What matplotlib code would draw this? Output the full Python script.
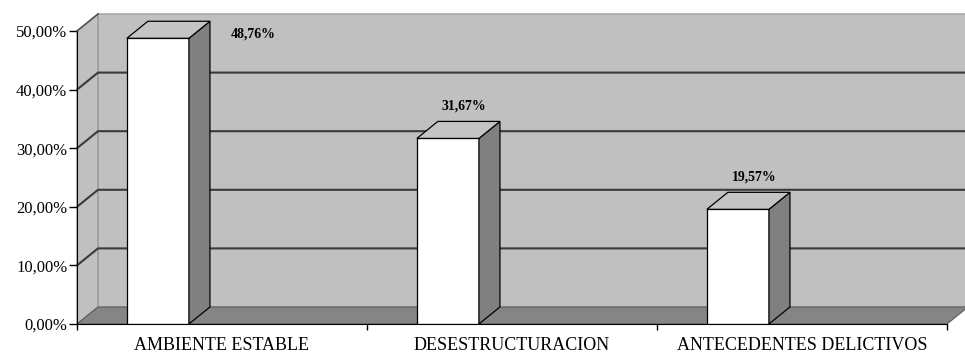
import numpy as np
import matplotlib.pyplot as plt
from matplotlib.patches import Polygon
from matplotlib.ticker import FixedLocator, FuncFormatter

plt.rcParams['font.family'] = ['Liberation Serif', 'DejaVu Serif']

# datos
categorias = ["AMBIENTE ESTABLE", "DESESTRUCTURACION", "ANTECEDENTES DELICTIVOS"]
porcentajes = [48.76, 31.67, 19.57]
marcas_y = [0, 10, 20, 30, 40, 50]

# colores estilo excel
PARED = "#c0c0c0"
SUELO = "#858585"
LATERAL = "#808080"
TAPA = "#c4c4c4"
REJILLA = "#3a3a3a"

fig = plt.figure(figsize=(9.65, 3.55), dpi=100)
ax = fig.add_axes([77/965, 31/355, 870/965, 293/355])
ax.set_xlim(0, len(categorias))
ax.set_ylim(0, 50)

# profundidad en unidades de datos (21 px a la derecha, 17 px hacia arriba)
px_x = 870 / len(categorias)
px_y = 293 / 50
DX = 21 / px_x
DY = 17 / px_y
ymax = marcas_y[-1]
n = len(categorias)

def poli(pts, fc, ec, z, lw=0.8):
    p = Polygon(pts, closed=True, facecolor=fc, edgecolor=ec, lw=lw, zorder=z, clip_on=False)
    ax.add_patch(p)

# pared del fondo, pared izquierda y suelo
poli([(DX, DY), (n + DX, DY), (n + DX, ymax + DY), (DX, ymax + DY)], PARED, "#a8a8a8", 1, 1.2)
poli([(0, 0), (DX, DY), (DX, ymax + DY), (0, ymax)], PARED, "#9a9a9a", 1, 1.0)
poli([(0, 0), (n, 0), (n + DX, DY), (DX, DY)], SUELO, "#5a5a5a", 2)

# lineas de division
for t in marcas_y[1:-1]:
    ax.plot([0, DX, n + DX], [t, t + DY, t + DY], color=REJILLA, lw=1.5,
            zorder=2, clip_on=False, solid_capstyle='butt')
ax.plot([0, DX], [ymax, ymax + DY], color="#555555", lw=1.2, zorder=2, clip_on=False)

# barras 3d
ancho = 0.214
desp = 0.172
for i, v in enumerate(porcentajes):
    x0 = i + desp
    x1 = x0 + ancho
    ax.bar(x0, v, width=ancho, align='edge', color="white", edgecolor="black",
           lw=0.9, zorder=5)
    poli([(x1, 0), (x1 + DX, DY), (x1 + DX, v + DY), (x1, v)], LATERAL, "black", 5, 0.9)
    poli([(x0, v), (x1, v), (x1 + DX, v + DY), (x0 + DX, v + DY)], TAPA, "black", 5, 0.9)

    etiqueta = f"{v:.2f}%".replace(".", ",")
    if v + DY + 15 / px_y > ymax + DY:
        # no cabe encima: se pone a la derecha de la barra
        ax.annotate(etiqueta, (x1 + DX, v), xytext=(31, 3), textcoords="offset points",
                    ha="center", va="center", fontsize=10, fontweight="bold", zorder=6)
    else:
        ax.annotate(etiqueta, (x0 + ancho / 2 + DX / 2, v + DY), xytext=(4, 11),
                    textcoords="offset points", ha="center", va="center",
                    fontsize=10, fontweight="bold", zorder=6)

# ejes
for lado in ["top", "right"]:
    ax.spines[lado].set_visible(False)
ax.spines["left"].set_color("black")
ax.spines["bottom"].set_color("black")
ax.spines["left"].set_zorder(6)
ax.spines["bottom"].set_zorder(6)
ax.patch.set_visible(False)

ax.set_yticks(marcas_y)
ax.yaxis.set_major_formatter(FuncFormatter(lambda v, p: f"{v:.2f}%".replace(".", ",")))
ax.tick_params(axis="y", direction="out", length=6, width=1, pad=1, labelsize=12)

ax.xaxis.set_major_locator(FixedLocator(range(n + 1)))
ax.xaxis.set_minor_locator(FixedLocator([i + 0.5 for i in range(n)]))
ax.xaxis.set_major_formatter(FuncFormatter(lambda v, p: ""))
ax.xaxis.set_minor_formatter(FuncFormatter(lambda v, p: categorias[int(v)]))
ax.tick_params(axis="x", which="major", direction="out", length=4, width=1)
ax.tick_params(axis="x", which="minor", length=0, pad=9, labelsize=13)

fig.savefig("out.png", dpi=100, facecolor="white")
